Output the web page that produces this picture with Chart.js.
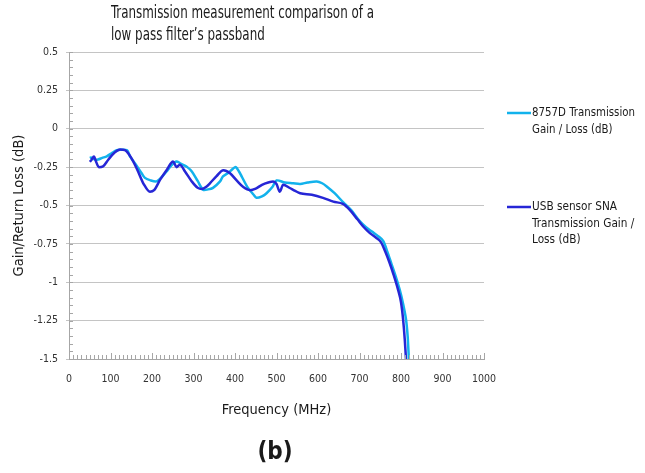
<!DOCTYPE html>
<html>
<head>
<meta charset="utf-8">
<script src="https://cdn.jsdelivr.net/npm/chart.js@4.4.1/dist/chart.umd.min.js"></script>
<style>
  html, body { margin: 0; padding: 0; background: #fff; }
</style>
</head>
<body>
<canvas id="chart" width="645" height="473"></canvas>
<script>
var FONT = "'Liberation Sans Narrow', 'DejaVu Sans Condensed', sans-serif";

var titleLines = ['Transmission measurement comparison of a', 'low pass filter\u2019s passband'];
var panelLabel = '(b)';
var xTitle = 'Frequency (MHz)';
var yTitle = 'Gain/Return Loss (dB)';
var seriesNames = [
  ['8757D Transmission', 'Gain / Loss (dB)'],
  ['USB sensor SNA', 'Transmission Gain /', 'Loss (dB)']
];

// 8757D (light blue)
var freq8757 = [50, 53, 62, 70, 80, 91, 105, 115, 123, 140, 147, 160, 175, 183, 195, 211, 225, 235, 248, 259,
  268, 275, 285, 296, 310, 323, 335, 347, 364, 371, 385, 395, 402, 410, 416, 430, 445, 452, 465, 476,
  490, 500, 520, 540, 557, 575, 597, 610, 621, 640, 661, 680, 700, 715, 730, 745, 757, 767, 777, 787,
  797, 805, 812, 816, 819, 822];
var gain8757 = [-0.19, -0.187, -0.2, -0.2, -0.19, -0.18, -0.155, -0.14, -0.137, -0.14, -0.18, -0.23, -0.29, -0.32, -0.335, -0.343, -0.31, -0.278, -0.235, -0.213,
  -0.225, -0.235, -0.25, -0.278, -0.34, -0.397, -0.395, -0.385, -0.343, -0.31, -0.285, -0.26, -0.25, -0.28, -0.31, -0.38, -0.43, -0.45, -0.44, -0.42,
  -0.38, -0.337, -0.35, -0.355, -0.36, -0.35, -0.343, -0.355, -0.376, -0.42, -0.48, -0.53, -0.6, -0.64, -0.67, -0.7, -0.73, -0.8, -0.88, -0.96,
  -1.05, -1.14, -1.24, -1.35, -1.5, -1.62];

// USB sensor SNA (dark blue)
var freqUsb = [50, 55, 60, 66, 72, 82, 95, 110, 123, 135, 150, 165, 180, 195, 205, 220, 235, 251, 259, 267,
  280, 295, 310, 320, 330, 340, 355, 372, 388, 405, 420, 436, 450, 465, 480, 492, 500, 508, 516, 532,
  545, 557, 585, 612, 637, 660, 677, 695, 710, 725, 740, 752, 762, 772, 782, 793, 800, 805, 809, 812, 815];
var gainUsb = [-0.215, -0.2, -0.18, -0.22, -0.25, -0.245, -0.2, -0.155, -0.135, -0.14, -0.19, -0.27, -0.36, -0.41, -0.4, -0.33, -0.27, -0.213, -0.25, -0.235,
  -0.28, -0.34, -0.385, -0.393, -0.38, -0.354, -0.31, -0.27, -0.29, -0.34, -0.38, -0.4, -0.39, -0.365, -0.35, -0.343, -0.36, -0.41, -0.365, -0.386,
  -0.405, -0.42, -0.43, -0.45, -0.475, -0.49, -0.53, -0.59, -0.64, -0.68, -0.71, -0.74, -0.8, -0.87, -0.95, -1.05, -1.13, -1.24, -1.37, -1.5, -1.62];

var xTicks = [0, 100, 200, 300, 400, 500, 600, 700, 800, 900, 1000];
var yTicks = [0.5, 0.25, 0, -0.25, -0.5, -0.75, -1, -1.25, -1.5];

function toPoints(xs, ys) {
  var pts = [];
  for (var i = 0; i < xs.length; i++) pts.push({x: xs[i], y: ys[i]});
  return pts;
}

// draw text squeezed sideways to look like the condensed face in the original
function narrowText(ctx, lines, x, y0, step, width) {
  var k = width / ctx.measureText(lines[0]).width;
  ctx.save();
  ctx.translate(x, 0);
  ctx.scale(k, 1);
  lines.forEach(function(t, j) { ctx.fillText(t, 0, y0 + j * step); });
  ctx.restore();
}

// title, legend, minor ticks and panel label
var extras = {
  id: 'extras',
  afterDraw: function(chart) {
    var ctx = chart.ctx, a = chart.chartArea;
    var xs = chart.scales.x, ys = chart.scales.y;
    ctx.save();

    ctx.strokeStyle = '#a6a6a6';
    ctx.lineWidth = 1;
    ctx.beginPath();
    for (var f = xTicks[0]; f <= xTicks[xTicks.length - 1]; f += 10) {
      var px = Math.round(xs.getPixelForValue(f)) + 0.5;
      var len = (f % 100 === 0) ? 6 : 4;
      ctx.moveTo(px, a.bottom);
      ctx.lineTo(px, a.bottom - len);
    }
    for (var i = 0; i <= 40; i++) {
      var py = Math.round(ys.getPixelForValue(-1.5 + i * 0.05)) + 0.5;
      ctx.moveTo(a.left, py);
      ctx.lineTo(a.left + 4, py);
    }
    ctx.stroke();

    ctx.fillStyle = '#1a1a1a';
    ctx.textAlign = 'left';
    ctx.textBaseline = 'alphabetic';
    ctx.font = '17px ' + FONT;
    narrowText(ctx, titleLines, 111, 18, 22, 263);

    // legend
    var tops = [113, 207];
    ctx.font = '12.5px ' + FONT;
    ctx.textBaseline = 'middle';
    chart.data.datasets.forEach(function(ds, k) {
      var y = tops[k];
      ctx.strokeStyle = ds.borderColor;
      ctx.lineWidth = 2.5;
      ctx.beginPath();
      ctx.moveTo(507, y);
      ctx.lineTo(531, y);
      ctx.stroke();
      ctx.fillStyle = '#1a1a1a';
      narrowText(ctx, seriesNames[k], 532, y, 16.5, k === 1 ? 85 : 103);
    });

    ctx.font = 'bold 24px ' + FONT;
    ctx.textAlign = 'center';
    ctx.fillStyle = '#1a1a1a';
    ctx.fillText(panelLabel, 275, 453);
    ctx.restore();
  }
};

new Chart(document.getElementById('chart').getContext('2d'), {
  type: 'line',
  data: {
    datasets: [{
      label: seriesNames[0].join(' '),
      data: toPoints(freq8757, gain8757),
      borderColor: '#12b2ec',
      borderWidth: 2.5,
      pointRadius: 0,
      tension: 0.3,
      order: 2
    }, {
      label: seriesNames[1].join(' '),
      data: toPoints(freqUsb, gainUsb),
      borderColor: '#2626d6',
      borderWidth: 2.5,
      pointRadius: 0,
      cubicInterpolationMode: 'monotone',
      order: 1
    }]
  },
  options: {
    responsive: false,
    animation: false,
    layout: { padding: { left: 0, right: 161, top: 52, bottom: 0 } },
    plugins: {
      legend: { display: false },
      tooltip: { enabled: false }
    },
    scales: {
      x: {
        type: 'linear',
        min: 0,
        max: 1000,
        afterFit: function(s) { s.height = 114; },
        afterBuildTicks: function(s) { s.ticks = xTicks.map(function(v) { return {value: v}; }); },
        grid: { drawOnChartArea: false, drawTicks: false },
        border: { color: '#a6a6a6' },
        ticks: { padding: 14, color: '#333', font: { family: FONT, size: 10.5 }, maxRotation: 0, callback: function(v) { return String(v); } },
        title: { display: true, text: xTitle, color: '#1a1a1a', font: { family: FONT, size: 14.5 }, padding: { top: 0, bottom: 54 } }
      },
      y: {
        min: -1.5,
        max: 0.5,
        afterFit: function(s) { s.width = 69; },
        afterBuildTicks: function(s) { s.ticks = yTicks.map(function(v) { return {value: v}; }); },
        grid: { color: '#c4c4c4', tickLength: 3 },
        border: { color: '#a6a6a6' },
        ticks: { padding: 8, color: '#333', font: { family: FONT, size: 10.5 }, callback: function(v) { return String(v); } },
        title: { display: true, text: yTitle, color: '#1a1a1a', font: { family: FONT, size: 14.5 }, padding: { top: 11, bottom: 0 } }
      }
    }
  },
  plugins: [extras]
});
</script>
</body>
</html>
